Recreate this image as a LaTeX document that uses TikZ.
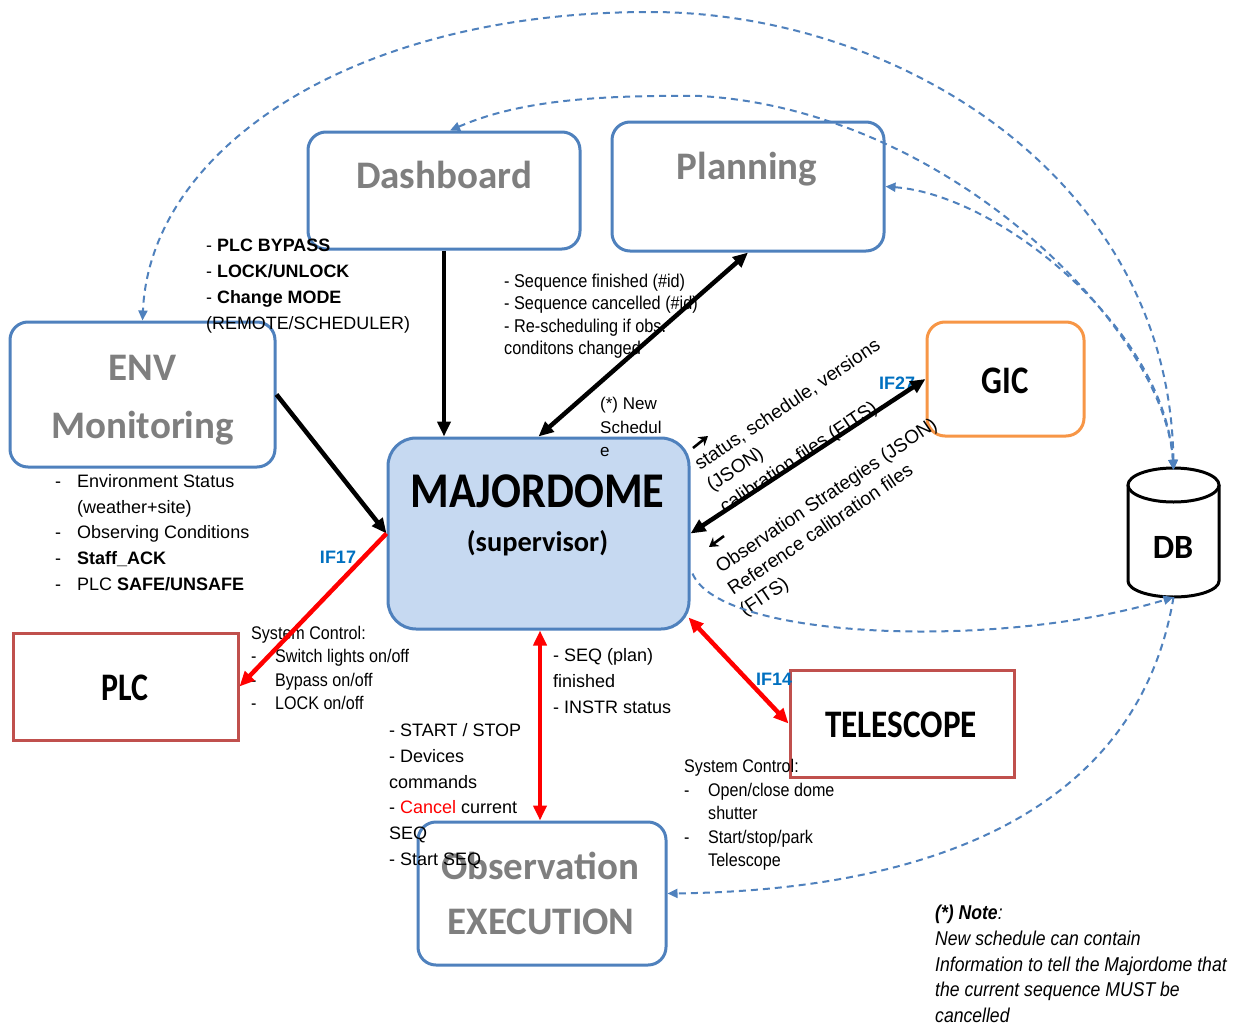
\documentclass[tikz,border=0pt]{standalone}
\usepackage{fontspec}
\setmainfont{Liberation Sans}
\newfontfamily\condsans[FakeStretch=0.88]{Liberation Sans}
\newfontfamily\titlefont{Carlito}
\usetikzlibrary{arrows.meta,calc}
\definecolor{boxblue}{RGB}{79,129,189}
\definecolor{majfill}{RGB}{198,217,241}
\definecolor{gicorange}{RGB}{247,150,70}
\definecolor{boxred}{RGB}{192,80,77}
\definecolor{ifblue}{RGB}{0,112,192}
\definecolor{titlegray}{RGB}{127,127,127}
\definecolor{arrred}{RGB}{255,0,0}
\begin{document}
\begin{tikzpicture}[x=1pt,y=-1pt,
  bluebox/.style={draw=boxblue, line width=3pt, rounded corners=18pt, inner sep=0pt},
  redbox/.style={draw=boxred, line width=3pt, inner sep=0pt},
  ttl/.style={font=\titlefont\bfseries\fontsize{39}{39}\selectfont, text=titlegray, inner sep=0pt},
  ttlk/.style={font=\titlefont\bfseries\fontsize{39}{39}\selectfont, text=black, inner sep=0pt},
  body/.style={font=\fontsize{18}{25.7}\selectfont, align=left, inner sep=0pt, anchor=north west},
  cond/.style={font=\condsans\fontsize{18.5}{22.5}\selectfont, align=left, inner sep=0pt, anchor=north west},
  rot/.style={font=\fontsize{19}{19}\selectfont, inner sep=0pt, anchor=base west, rotate=34},
  iflab/.style={font=\bfseries\fontsize{18}{18}\selectfont, text=ifblue, inner sep=0pt},
  blk/.style={line width=4.5pt, draw=black},
  redarr/.style={line width=4.5pt, draw=arrred},
  bhead/.style={-{Triangle[length=15pt,width=13pt]}},
  bboth/.style={{Triangle[length=15pt,width=13pt]}-{Triangle[length=15pt,width=13pt]}},
  dsh/.style={draw=boxblue, line width=2pt, dash pattern=on 7pt off 5pt},
  dhead/.style={-{Triangle[length=10pt,width=9pt]}},
  dboth/.style={{Triangle[length=10pt,width=9pt]}-{Triangle[length=10pt,width=9pt]}},
  dirmark/.style={line width=2.6pt, -{Stealth[length=9pt,width=11pt]}}
]
\fill[white] (0,0) rectangle (1241,1025);
\useasboundingbox (0,0) rectangle (1241,1025);

% boxes
\node[bluebox, minimum width=272, minimum height=117] (dash) at (444,190.5) {};
\node[bluebox, minimum width=272, minimum height=129] (plan) at (748,186.5) {};
\node[bluebox, minimum width=265, minimum height=145] (env) at (142.5,394.5) {};
\node[bluebox, fill=majfill, rounded corners=28pt, minimum width=301, minimum height=191] (maj) at (538.5,533.5) {};
\node[draw=gicorange, line width=3pt, rounded corners=18pt, minimum width=157, minimum height=114, inner sep=0pt] (gic) at (1005.5,379) {};
\node[redbox, minimum width=225, minimum height=107] (plc) at (125.5,686.5) {};
\node[redbox, minimum width=224, minimum height=107] (tel) at (902,723.5) {};
\node[bluebox, minimum width=248, minimum height=143] (obs) at (542,893.5) {};
\node[minimum width=91, minimum height=127, inner sep=0pt] (db) at (1173.5,533.5) {};
\draw[line width=3pt, fill=white] (1128,485) -- (1128,581) arc[start angle=180, end angle=0, x radius=45.5, y radius=16] -- (1219,485);
\draw[line width=3pt, fill=white] (1173.5,485) ellipse[x radius=45.5, y radius=17];

% titles
\node[ttl] (dashT) at (444,175) {Dashboard};
\node[ttl] (planT) at (747,169) {Planning};
\node[ttl] (envT1) at (142.5,368) {ENV};
\node[ttl] (envT2) at (142.5,428) {Monitoring};
\node[ttl] (obsT1) at (540,866) {Observation};
\node[ttl] (obsT2) at (541,922) {EXECUTION};
\node[ttlk, font=\titlefont\bfseries\fontsize{50}{50}\selectfont] (majT1) at (537.5,491) {\scalebox{0.885}[1]{MAJORDOME}};
\node[ttlk, font=\titlefont\bfseries\fontsize{28.4}{28.4}\selectfont] (majT2) at (537.5,543) {(supervisor)};
\node[ttlk] (gicT) at (1005,381) {\scalebox{0.84}[1]{GIC}};
\node[ttlk] (plcT) at (125,688) {\scalebox{0.82}[1]{PLC}};
\node[ttlk] (telT) at (901,725) {\scalebox{0.85}[1]{TELESCOPE}};
\node[ttlk, font=\titlefont\bfseries\fontsize{34}{34}\selectfont] (dbT) at (1173,547) {DB};

% texts
\node[body, font=\fontsize{17.9}{26}\selectfont] (bypass) at (206,238.5) {- \textbf{PLC BYPASS}\\- \textbf{LOCK/UNLOCK}\\- \textbf{Change MODE}\\(REMOTE/SCHEDULER)};
\node[body] (envlist) at (55,474.2) {\makebox[22pt][l]{-}Environment Status\\\hspace*{22pt}(weather+site)\\\makebox[22pt][l]{-}Observing Conditions\\\makebox[22pt][l]{-}\textbf{Staff\_ACK}\\\makebox[22pt][l]{-}PLC \textbf{SAFE/UNSAFE}};
\node[cond] (seqlist) at (504,273.4) {- Sequence finished (\#id)\\- Sequence cancelled (\#id)\\- Re-scheduling if obs.\\conditons changed};
\node[body, font=\fontsize{17}{23.5}\selectfont] (newsch) at (600,397) {(*) New\\Schedul\\e};
\node[cond, font=\condsans\fontsize{18.3}{23.4}\selectfont] (plcctl) at (251,626.1) {System Control:\\\makebox[24pt][l]{-}Switch lights on/off\\\makebox[24pt][l]{-}Bypass on/off\\\makebox[24pt][l]{-}LOCK on/off};
\node[cond, font=\condsans\fontsize{18.3}{23.5}\selectfont] (telctl) at (684,759.1) {System Control:\\\makebox[24pt][l]{-}Open/close dome\\\hspace*{24pt}shutter\\\makebox[24pt][l]{-}Start/stop/park\\\hspace*{24pt}Telescope};
\node[body] (seqfin) at (553,648.4) {- SEQ (plan)\\finished\\- INSTR status};
\node[body] (startstop) at (389,723.4) {- START / STOP\\- Devices\\commands\\- {\color{arrred}Cancel} current\\SEQ\\- Start SEQ};
\node[cond, font=\condsans\itshape\fontsize{20}{25.7}\selectfont] (note) at (935,905) {\textbf{(*) Note}:\\New schedule can contain\\Information to tell the Majordome that\\the current sequence MUST be\\cancelled};

% rotated texts
\node[rot] (r1) at (700,471) {status, schedule, versions};
\node[rot] (r2) at (712,492) {(JSON)};
\node[rot] (r3) at (725,514) {calibration files (FITS)};
\node[rot] (r4) at (721,574) {Observation Strategies (JSON)};
\node[rot] (r5) at (733,596) {Reference calibration files};
\node[rot] (r6) at (745,617) {(FITS)};

% IF labels
\node[iflab] (if17) at (338,557) {IF17};
\node[iflab] (if27) at (897,383) {IF27};
\node[iflab] (if14) at (774,679) {IF14};

% dashed connectors
\draw[dsh, dboth] (db.north) .. controls (1170,180) and (900,12) .. (650,12) .. controls (350,12) and (150,150) .. (env.north);
\draw[dsh, dboth] ([xshift=6pt]dash.north) .. controls (520,100) and (600,95) .. (700,96) .. controls (950,110) and (1165,330) .. (db.north);
\draw[dsh, dboth] (plan.east) .. controls (1000,195) and (1165,330) .. (db.north);
\draw[dsh, dhead] ($(maj.east)+(2,40)$) .. controls (720,640) and (1000,650) .. (db.south);
\draw[dsh, dhead] (db.south) .. controls (1140,800) and (950,890) .. (obs.east);

% solid connectors
\draw[blk, bhead] (dash.south) -- (dash.south |- maj.north);
\draw[blk, bhead] (env.east) -- (maj.west);
\draw[blk, bboth] (plan.south) -- (maj.north);
\draw[blk, bboth] (gic.west) -- (maj.east);
\draw[redarr, bhead] (maj.west) -- (plc.east);
\draw[redarr, bboth] ([xshift=1.5pt]maj.south) -- ([xshift=1.5pt]maj.south |- obs.north);
\draw[redarr, bboth] ($(maj.south east)+(-2,-13)$) -- (tel.west);

% small direction marks
\coordinate (m1a) at (693,448);
\coordinate (m1b) at (708,436);
\coordinate (m2a) at (724,536);
\coordinate (m2b) at (709,547);
\draw[dirmark] (m1a) -- (m1b);
\draw[dirmark] (m2a) -- (m2b);
\end{tikzpicture}
\end{document}
